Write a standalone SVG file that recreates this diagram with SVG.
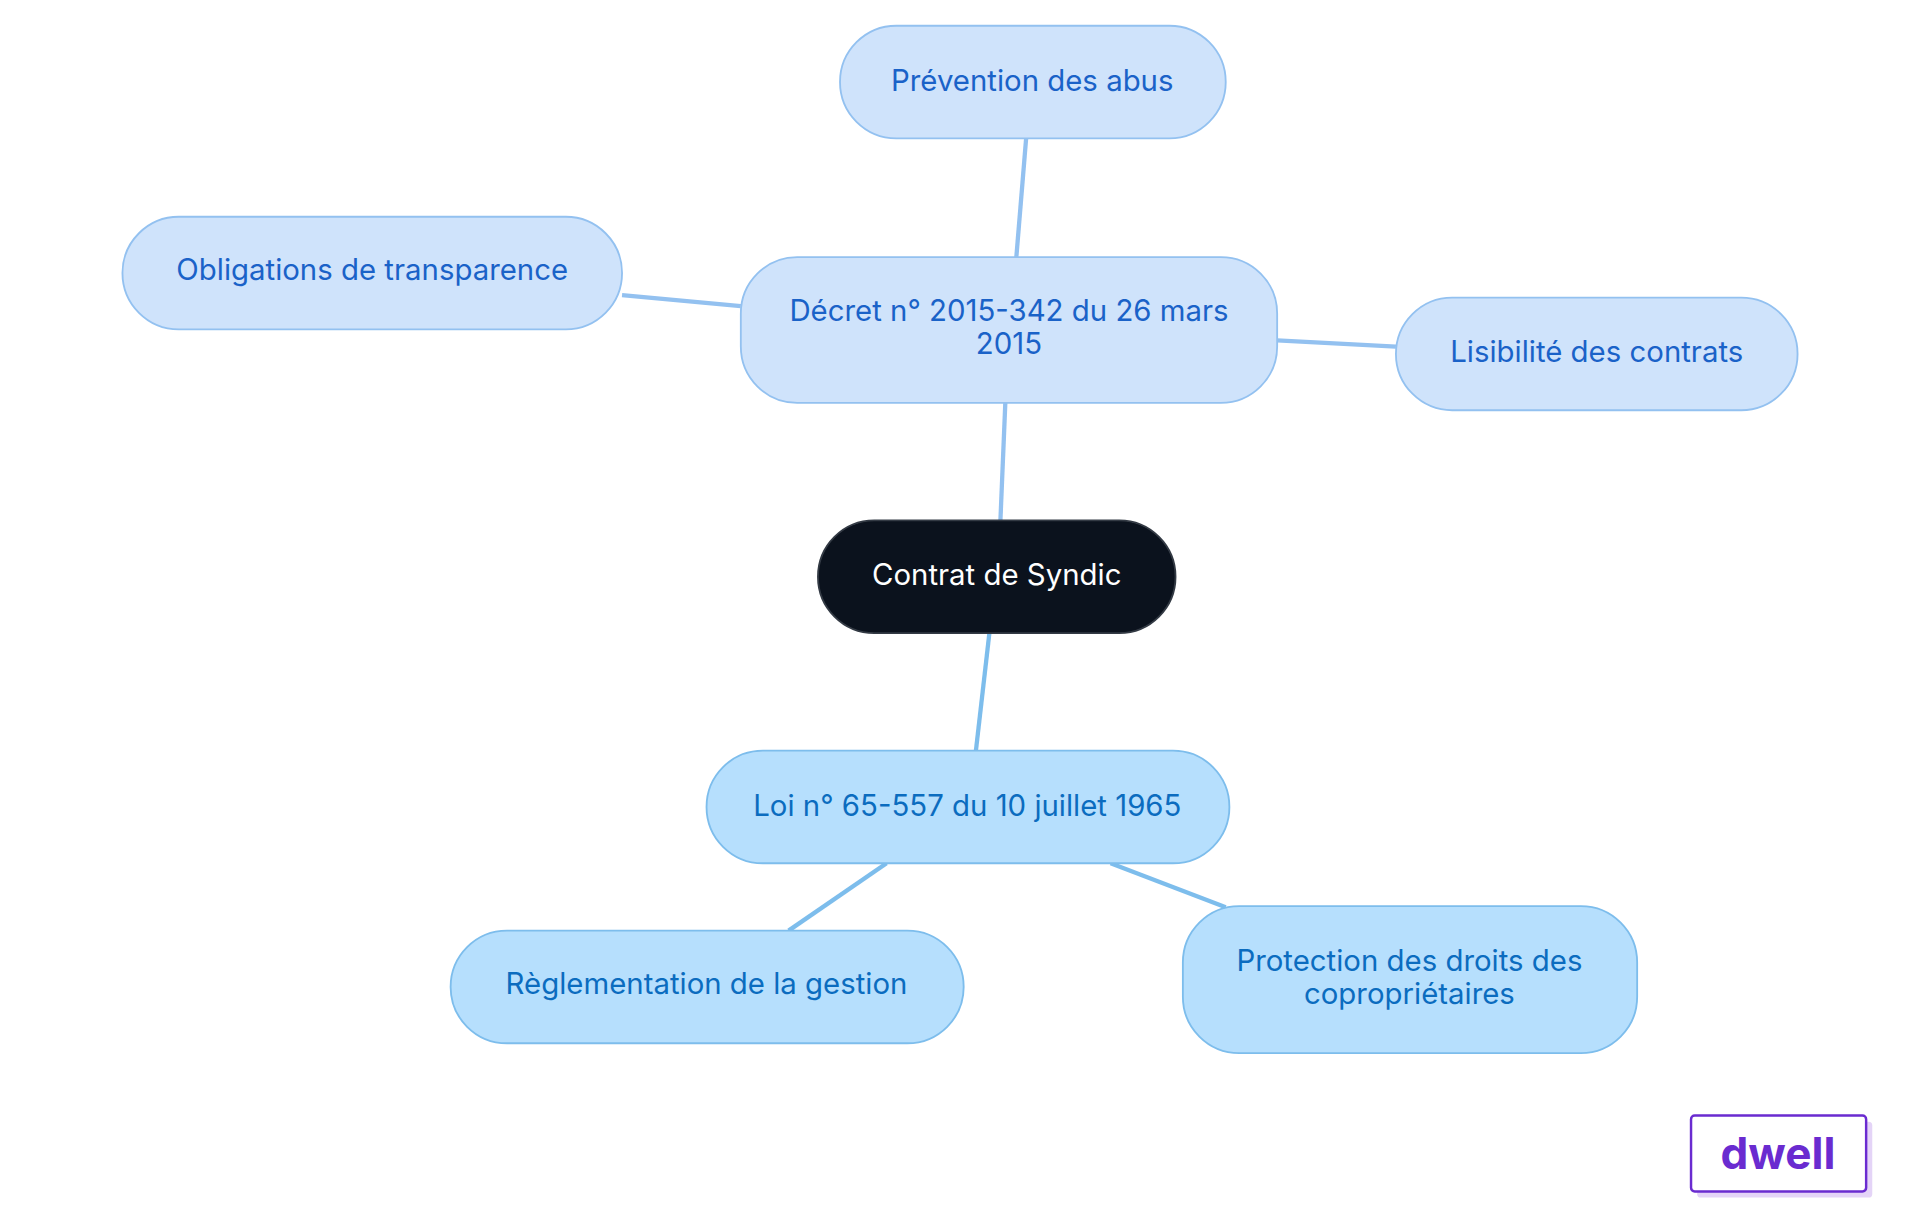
<svg xmlns="http://www.w3.org/2000/svg" width="1920" height="1215" viewBox="0 0 1920 1215">
<style>
.t{font-family:Inter,"Liberation Sans",sans-serif;font-size:24px;text-anchor:middle}
.a rect{fill:#cfe3fb;stroke:#93c1f0;stroke-width:1.5}
.a text{fill:#1a62c8}
.b rect{fill:#b6dffd;stroke:#7dbdec;stroke-width:1.5}
.b text{fill:#0b6cbf}
.ea{stroke:#93c1f0;stroke-width:3.5}
.eb{stroke:#7dbdec;stroke-width:3.5}
</style>
<rect width="1920" height="1215" fill="#fff"/>
<g transform="scale(1.2245)">
<g id="connectors" fill="none">
<line class="ea" x1="830" y1="210" x2="838" y2="113"/>
<line class="ea" x1="605" y1="250" x2="508" y2="241"/>
<line class="ea" x1="1043" y1="278" x2="1140" y2="283"/>
<line class="ea" x1="817" y1="425" x2="821" y2="329"/>
<line class="eb" x1="808" y1="517" x2="797" y2="613"/>
<line class="eb" x1="724" y1="705" x2="644" y2="760"/>
<line class="eb" x1="907" y1="705" x2="1001" y2="741"/>
</g>
<g id="prevention" class="a t"><rect x="686" y="21" width="315" height="92" rx="46"/><text x="843" y="74">Prévention des abus</text></g>
<g id="obligations" class="a t"><rect x="100" y="177" width="408" height="92" rx="46"/><text x="304" y="229">Obligations de transparence</text></g>
<g id="decret" class="a t"><rect x="605" y="210" width="438" height="119" rx="46"/><text x="824" y="262">Décret n° 2015-342 du 26 mars</text><text x="824" y="289">2015</text></g>
<g id="lisibilite" class="a t"><rect x="1140" y="243" width="328" height="92" rx="46"/><text x="1304" y="296">Lisibilité des contrats</text></g>
<g id="contrat" class="t"><rect x="668" y="425" width="292" height="92" rx="46" fill="#0b121d" stroke="#333a44" stroke-width="1.5"/><text x="814" y="478" fill="#fff">Contrat de Syndic</text></g>
<g id="loi" class="b t"><rect x="577" y="613" width="427" height="92" rx="46"/><text x="790" y="666">Loi n° 65-557 du 10 juillet 1965</text></g>
<g id="reglementation" class="b t"><rect x="368" y="760" width="419" height="92" rx="46"/><text x="577" y="812">Règlementation de la gestion</text></g>
<g id="protection" class="b t"><rect x="966" y="740" width="371" height="120" rx="46"/><text x="1151" y="793">Protection des droits des</text><text x="1151" y="820">copropriétaires</text></g>
<g id="logo">
<rect x="1386" y="916" width="143" height="62" rx="3" fill="#e4d4f7"/>
<rect x="1381" y="911" width="143" height="62" rx="3" fill="#fff" stroke="#6a2bd0" stroke-width="2"/>
<text x="1452" y="955" font-family="Inter,'Liberation Sans',sans-serif" font-size="36" font-weight="bold" fill="#6a2bd0" text-anchor="middle">dwell</text>
</g>
</g>
</svg>
